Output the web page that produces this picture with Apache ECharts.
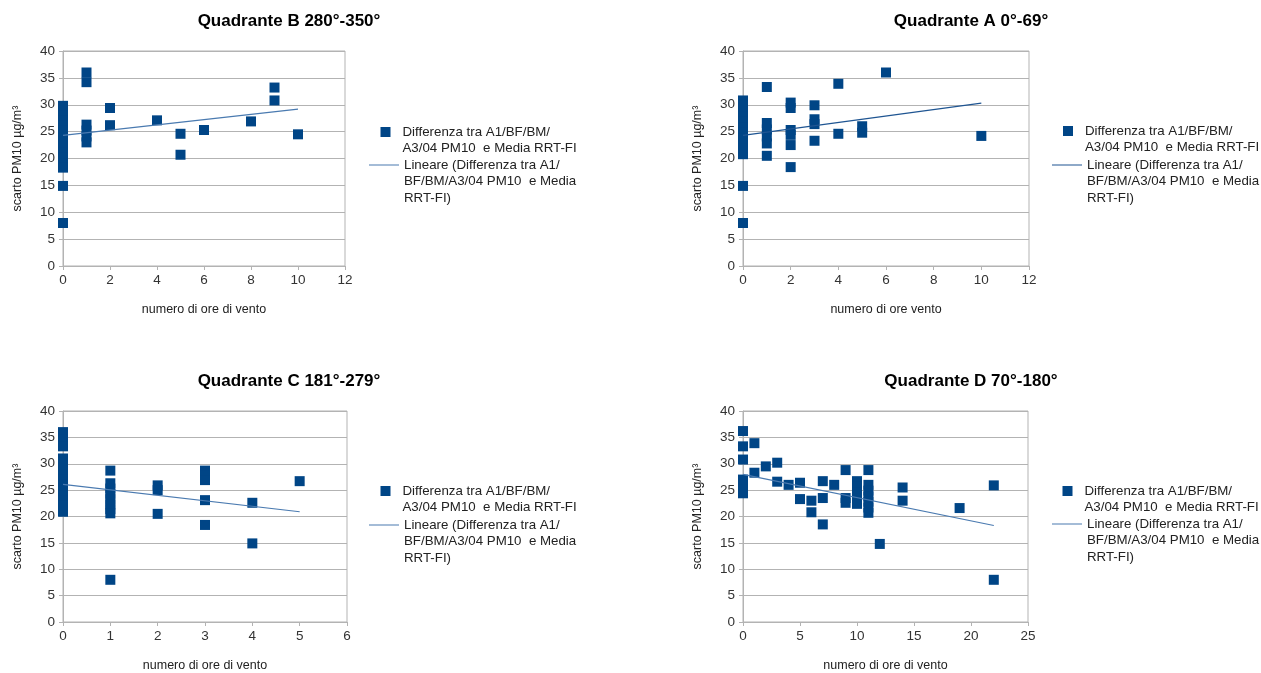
<!DOCTYPE html>
<html><head><meta charset="utf-8">
<script src="https://cdn.jsdelivr.net/npm/echarts@6/dist/echarts.min.js"></script>
<style>html,body{margin:0;padding:0;background:#fff}#c{width:1261px;height:673px}</style>
</head><body><div id="c"></div>
<script>
// ---- data ----
const titleB = 'Quadrante B 280°-350°';
const titleA = 'Quadrante A 0°-69°';
const titleC = 'Quadrante C 181°-279°';
const titleD = 'Quadrante D 70°-180°';
const xNameB = 'numero di ore di vento';
const xNameA = 'numero di ore vento';
const xNameC = 'numero di ore di vento';
const xNameD = 'numero di ore di vento';
const yName = 'scarto PM10 µg/m³';
const seriesName = 'Differenza tra A1/BF/BM/A3/04 PM10  e Media RRT-FI';
const trendName = 'Lineare (Differenza tra A1/BF/BM/A3/04 PM10  e Media RRT-FI)';
const seriesLabel = 'Differenza tra A1/BF/BM/\nA3/04 PM10  e Media RRT-FI';
const trendLabel = 'Lineare (Differenza tra A1/\nBF/BM/A3/04 PM10  e Media\nRRT-FI)';

const hoursB  = [0,0,0,0,0,0,0,0,0,0,0,0,0,0,0, 1,1,1,1,1,1, 2,2, 4, 5,5, 6, 8, 9,9, 10];
const scartoB = [18.3,19.2,20.1,21,22,23,24,25,26,27,28,29,29.8,14.9,8.0, 36.0,34.2,26.3,25.2,24.1,23.0, 29.4,26.2, 27.1, 24.6,20.7, 25.3, 26.9, 33.2,30.8, 24.5];
const trendXB = [0,10];
const trendYB = [24.3,29.2];

const hoursA  = [0,0,0,0,0,0,0,0,0,0,0,0,0, 1,1,1,1,1,1, 2,2,2,2,2,2, 3,3,3,3, 4,4, 5,5, 6, 10];
const scartoA = [30.8,29.8,28.8,27.8,26.8,25.8,24.8,23.8,22.8,21.8,20.8,14.9,8.0, 33.3,26.6,25.4,24.1,22.8,20.5, 30.4,29.4,25.3,24.4,22.5,18.4, 29.9,27.3,26.4,23.3, 33.9,24.6, 26.0,24.8, 36.0, 24.2];
const trendXA = [0,10];
const trendYA = [24.3,30.3];

const hoursC  = [0,0,0,0,0,0,0,0,0,0,0,0,0,0, 1,1,1,1,1,1,1,1,1, 2,2,2, 3,3,3,3,3, 4,4, 5];
const scartoC = [36.0,34.6,33.3,31.0,30.0,29.0,28.0,27.0,26.0,25.0,24.0,23.0,22.0,20.9, 28.7,26.3,25.3,24.3,23.3,22.3,21.4,20.6,8.0, 25.9,25.0,20.5, 28.7,27.8,26.9,23.1,18.4, 22.6,14.9, 26.7];
const trendXC = [0,5];
const trendYC = [26.1,20.9];

const hoursD  = [0,0,0,0,0,0,0, 1,1, 2, 3,3, 4, 5,5, 6,6, 7,7,7, 8, 9,9,9, 10,10,10,10,10, 11,11,11,11,11,11,11, 12, 14,14, 19, 22,22];
const scartoD = [36.2,33.3,30.8,27.0,26.1,25.2,24.4, 33.9,28.3, 29.5, 30.2,26.6, 26.0, 26.4,23.3, 23.0,20.8, 26.7,23.5,18.5, 26.0, 28.8,23.5,22.6, 26.7,25.6,24.5,23.4,22.4, 28.8,26.0,24.9,23.8,22.8,21.7,20.7, 14.8, 25.5,23.0, 21.6, 25.9,8.0];
const trendXD = [0,22];
const trendYD = [28.0,18.3];

// ---- layout ----
const panels = [
  {title: titleB, xName: xNameB, hx: hoursB, sy: scartoB, tx: trendXB, ty: trendYB, xMax: 12, xInt: 2,
   grid: {left: 63, top: 51, width: 282, height: 215}, tc: 289, tt: 13,
   lg: {sx: 380.5, sy: 132, lx: 369, ly: 165}, lineColor: '#4a7ab0'},
  {title: titleA, xName: xNameA, hx: hoursA, sy: scartoA, tx: trendXA, ty: trendYA, xMax: 12, xInt: 2,
   grid: {left: 743, top: 51, width: 286, height: 215}, tc: 971, tt: 13,
   lg: {sx: 1063, sy: 131, lx: 1052, ly: 165}, lineColor: '#1f5592'},
  {title: titleC, xName: xNameC, hx: hoursC, sy: scartoC, tx: trendXC, ty: trendYC, xMax: 6, xInt: 1,
   grid: {left: 63, top: 411, width: 284, height: 212}, tc: 289, tt: 373,
   lg: {sx: 380.5, sy: 491, lx: 369, ly: 525}, lineColor: '#4a7ab0'},
  {title: titleD, xName: xNameD, hx: hoursD, sy: scartoD, tx: trendXD, ty: trendYD, xMax: 25, xInt: 5,
   grid: {left: 743, top: 411, width: 285, height: 214}, tc: 971, tt: 373,
   lg: {sx: 1062.5, sy: 491, lx: 1052, ly: 524}, lineColor: '#4a7ab0'}
];

const FONT = '"Liberation Sans", Arial, sans-serif';
const markerColor = '#004586';
const gridColor = '#b3b3b3';
const LH = 16.5;
// legend icons: the visible part sits at the top of the item box so it lines up with the first text line
const SQ_H = LH + 10;           // item box height for 2-line label (first line centred on the square)
const LN_H = 2 * LH + 1.2;      // item box height for 3-line label
const squareIcon = 'path://M0,0h10v10h-10zM0,' + SQ_H + 'h0.001';
const lineIcon = 'path://M0,0h30v1.2h-30zM0,' + LN_H + 'h0.001';

const option = {
  animation: false,
  backgroundColor: '#fff',
  textStyle: {fontFamily: FONT},
  title: [], grid: [], xAxis: [], yAxis: [], series: [], legend: []
};

panels.forEach((p, i) => {
  option.title.push({
    text: p.title, left: p.tc, top: p.tt, textAlign: 'center', padding: 0,
    textStyle: {fontFamily: FONT, fontSize: 17, fontWeight: 'bold', color: '#000'}
  });
  option.grid.push(Object.assign({show: true, borderColor: gridColor, borderWidth: 1, containLabel: false}, p.grid));
  option.xAxis.push({
    gridIndex: i, type: 'value', min: 0, max: p.xMax, interval: p.xInt,
    name: p.xName, nameLocation: 'middle', nameGap: 37,
    nameTextStyle: {fontFamily: FONT, fontSize: 12.5, color: '#222'},
    axisLine: {show: true, lineStyle: {color: gridColor, width: 1}},
    axisTick: {show: true, length: 4, lineStyle: {color: gridColor}},
    axisLabel: {fontFamily: FONT, fontSize: 13.5, color: '#333', margin: 7},
    splitLine: {show: false}
  });
  option.yAxis.push({
    gridIndex: i, type: 'value', min: 0, max: 40, interval: 5,
    name: yName, nameLocation: 'middle', nameGap: 39, nameRotate: 90,
    nameTextStyle: {fontFamily: FONT, fontSize: 12.5, color: '#222'},
    axisLine: {show: true, lineStyle: {color: gridColor, width: 1}},
    axisTick: {show: true, length: 4, lineStyle: {color: gridColor}},
    axisLabel: {fontFamily: FONT, fontSize: 13.5, color: '#333', margin: 8},
    splitLine: {show: true, lineStyle: {color: gridColor, width: 1}}
  });
  option.series.push({
    name: seriesName, type: 'scatter', xAxisIndex: i, yAxisIndex: i,
    symbol: 'rect', symbolSize: 10,
    itemStyle: {color: markerColor, opacity: 1},
    data: p.hx.map((x, k) => [x, p.sy[k]]), z: 2
  });
  option.series.push({
    name: trendName, type: 'line', xAxisIndex: i, yAxisIndex: i,
    symbol: 'none', showSymbol: false,
    lineStyle: {color: p.lineColor, width: 1.2},
    itemStyle: {color: p.lineColor},
    data: p.tx.map((x, k) => [x, p.ty[k]]), z: 3
  });
  option.legend.push({
    data: [{name: seriesName, icon: squareIcon, itemStyle: {color: markerColor}}],
    left: p.lg.sx, top: p.lg.sy - 5 - (LH - SQ_H / 2), padding: 0,
    selectedMode: false, itemWidth: 10, itemHeight: SQ_H,
    formatter: () => seriesLabel,
    textStyle: {fontFamily: FONT, fontSize: 13.3, color: '#222', lineHeight: LH, padding: [0, 0, 0, 7]}
  });
  option.legend.push({
    data: [{name: trendName, icon: lineIcon, itemStyle: {color: p.lineColor}}],
    left: p.lg.lx, top: p.lg.ly - 0.6 - (1.5 * LH - LN_H / 2), padding: 0,
    selectedMode: false, itemWidth: 30, itemHeight: LN_H,
    formatter: () => trendLabel,
    textStyle: {fontFamily: FONT, fontSize: 13.3, color: '#222', lineHeight: LH, padding: 0}
  });
});

const chart = echarts.init(document.getElementById('c'), null, {renderer: 'canvas'});
chart.setOption(option);
</script>
</body></html>
